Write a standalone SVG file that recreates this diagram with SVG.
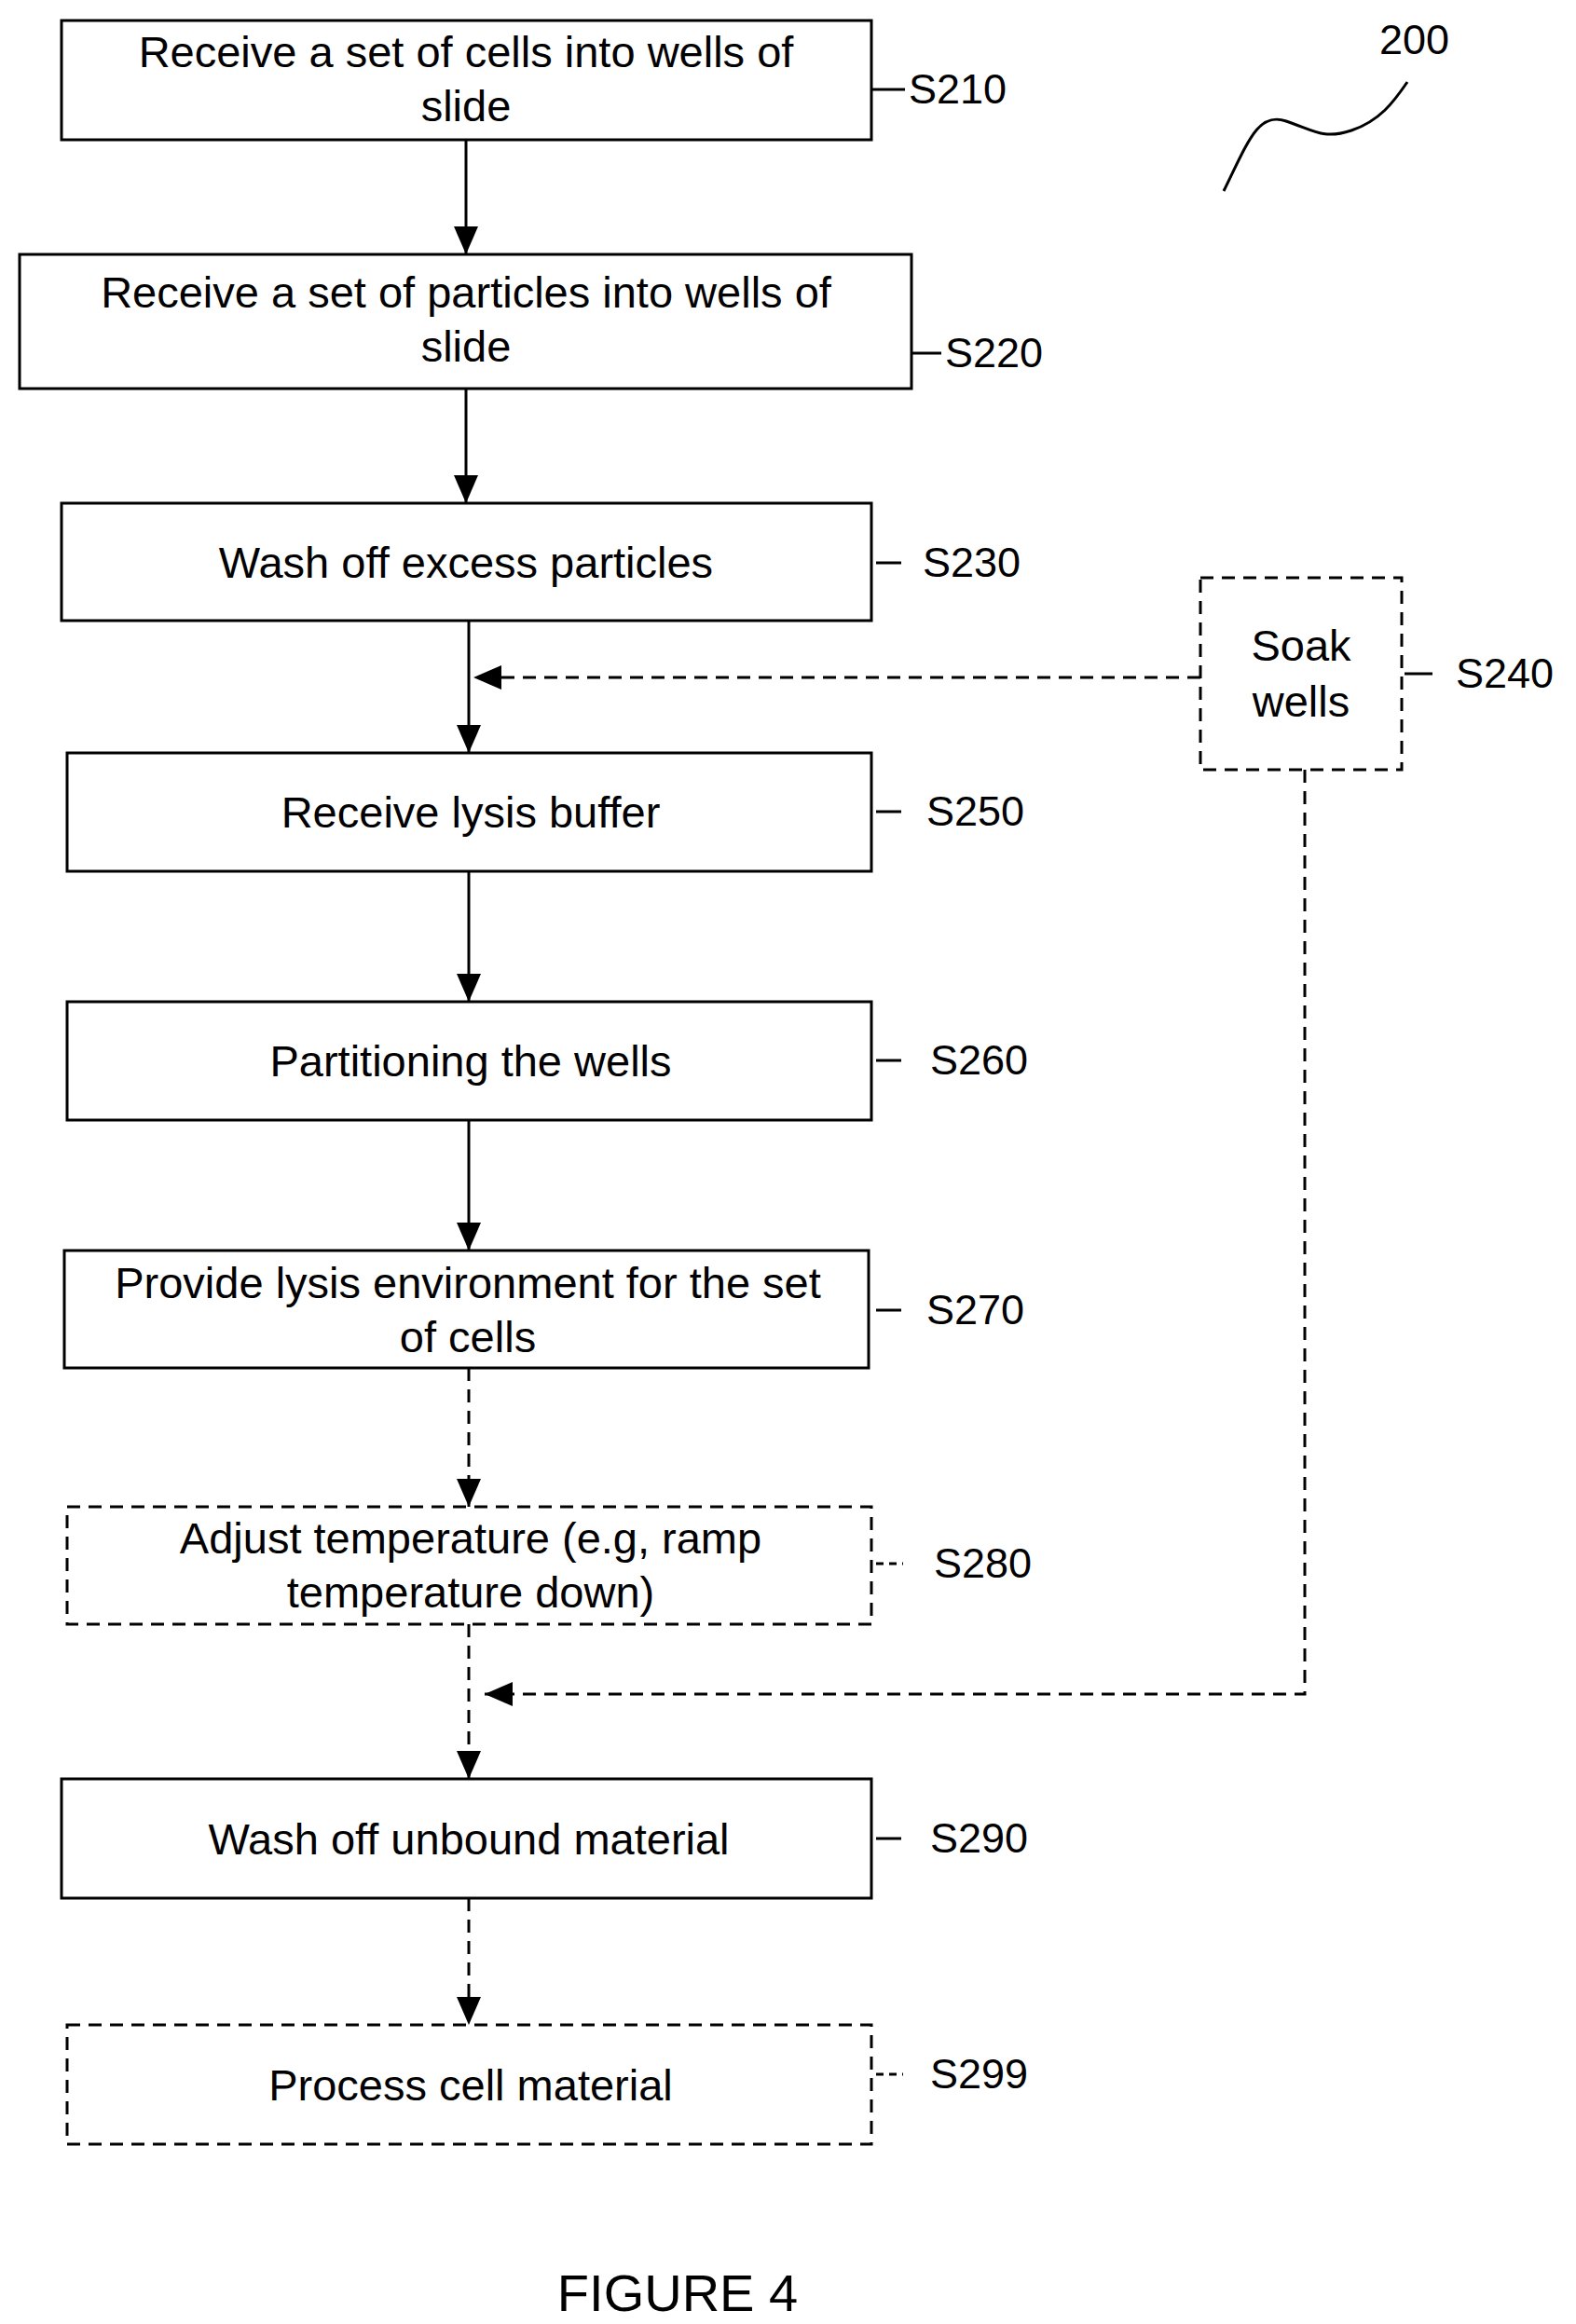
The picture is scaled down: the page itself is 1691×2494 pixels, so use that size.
<svg xmlns="http://www.w3.org/2000/svg" width="1691" height="2494" viewBox="0 0 1691 2494">
<style>
.b{fill:#fff;stroke:#000;stroke-width:3}
.d{fill:#fff;stroke:#000;stroke-width:3;stroke-dasharray:14 9}
.t{font-family:"Liberation Sans",Arial,sans-serif;font-size:47px;fill:#000;text-anchor:middle}
.l{font-family:"Liberation Sans",Arial,sans-serif;font-size:45px;fill:#000}
.c{stroke:#000;stroke-width:3;fill:none}
.cd{stroke:#000;stroke-width:3;fill:none;stroke-dasharray:14 9}
.ct{stroke:#000;stroke-width:3;fill:none;stroke-dasharray:8 6}
</style>
<defs>
<marker id="A" viewBox="0 0 30 26" refX="30" refY="13" markerWidth="30" markerHeight="26" orient="auto" markerUnits="userSpaceOnUse"><path d="M0,0 L30,13 L0,26 Z" fill="#000"/></marker></defs>
<g id="connectors">
<path class="c" d="M500,150 V273" marker-end="url(#A)"/>
<path class="c" d="M500,417 V540" marker-end="url(#A)"/>
<path class="c" d="M503,666 V808" marker-end="url(#A)"/>
<path class="cd" d="M1288,727 H508" marker-end="url(#A)"/>
<path class="c" d="M503,935 V1075" marker-end="url(#A)"/>
<path class="c" d="M503,1202 V1342" marker-end="url(#A)"/>
<path class="cd" d="M503,1468 V1617" marker-end="url(#A)"/>
<path class="cd" d="M503,1743 V1909" marker-end="url(#A)"/>
<path class="cd" d="M1400,826 V1818 H520" marker-end="url(#A)"/>
<path class="cd" d="M503,2037 V2173" marker-end="url(#A)"/>
</g>
<g id="S210"><rect class="b" x="66" y="22" width="869" height="128"/><text class="t" x="500" y="72">Receive a set of cells into wells of</text><text class="t" x="500" y="130">slide</text><path class="c" d="M935,96 H971"/><text class="l" x="975" y="111">S210</text></g>
<g id="S220"><rect class="b" x="21" y="273" width="957" height="144"/><text class="t" x="500" y="330">Receive a set of particles into wells of</text><text class="t" x="500" y="388">slide</text><path class="c" d="M978,379 H1010"/><text class="l" x="1014" y="394">S220</text></g>
<g id="S230"><rect class="b" x="66" y="540" width="869" height="126"/><text class="t" x="500" y="620">Wash off excess particles</text><path class="c" d="M940,604 H967"/><text class="l" x="990" y="619">S230</text></g>
<g id="S240"><rect class="d" x="1288" y="620" width="216" height="206"/><text class="t" x="1396" y="709">Soak</text><text class="t" x="1396" y="769">wells</text><path class="c" d="M1507,723 H1537"/><text class="l" x="1562" y="738">S240</text></g>
<g id="S250"><rect class="b" x="72" y="808" width="863" height="127"/><text class="t" x="505" y="888">Receive lysis buffer</text><path class="c" d="M940,871 H967"/><text class="l" x="994" y="886">S250</text></g>
<g id="S260"><rect class="b" x="72" y="1075" width="863" height="127"/><text class="t" x="505" y="1155">Partitioning the wells</text><path class="c" d="M940,1138 H967"/><text class="l" x="998" y="1153">S260</text></g>
<g id="S270"><rect class="b" x="69" y="1342" width="863" height="126"/><text class="t" x="502" y="1393">Provide lysis environment for the set</text><text class="t" x="502" y="1451">of cells</text><path class="c" d="M940,1406 H967"/><text class="l" x="994" y="1421">S270</text></g>
<g id="S280"><rect class="d" x="72" y="1617" width="863" height="126"/><text class="t" x="505" y="1667">Adjust temperature (e.g, ramp</text><text class="t" x="505" y="1725">temperature down)</text><path class="ct" d="M940,1678 H969"/><text class="l" x="1002" y="1693">S280</text></g>
<g id="S290"><rect class="b" x="66" y="1909" width="869" height="128"/><text class="t" x="503" y="1990">Wash off unbound material</text><path class="c" d="M940,1973 H967"/><text class="l" x="998" y="1988">S290</text></g>
<g id="S299"><rect class="d" x="72" y="2173" width="863" height="128"/><text class="t" x="505" y="2254">Process cell material</text><path class="ct" d="M940,2226 H969"/><text class="l" x="998" y="2241">S299</text></g>
<g id="ref200"><text class="l" x="1480" y="58">200</text><path class="c" d="M1313,205 C1340,150 1350,120 1380,130 C1410,140 1420,150 1450,140 C1480,130 1495,110 1510,88"/></g>
<text class="l" x="727" y="2480" text-anchor="middle" style="font-size:56px">FIGURE 4</text>
</svg>
